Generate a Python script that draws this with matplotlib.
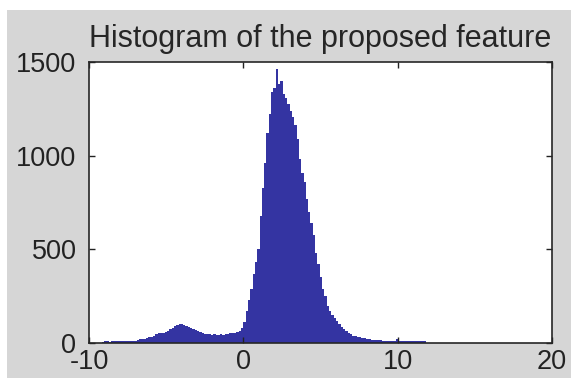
# coding:utf-8
import numpy as np
import matplotlib
matplotlib.use('Agg')
import matplotlib.pyplot as plt
from matplotlib.patches import Rectangle

plt.rcParams['font.family'] = ['Liberation Sans', 'DejaVu Sans']
plt.rcParams['axes.unicode_minus'] = False

# 直方图的分箱：从 -9.15 开始，宽 0.15
bin_start = -9.15
bin_width = 0.15
counts = [
    8, 9, 9, 8, 9, 10, 9, 9, 10, 10,
    10, 9, 10, 11, 12, 15, 19, 21, 24, 28,
    31, 34, 40, 47, 53, 54, 55, 58, 66, 76,
    82, 90, 96, 100, 99, 98, 93, 86, 80, 74,
    68, 63, 58, 54, 50, 47, 46, 44, 47, 45,
    44, 47, 45, 48, 50, 52, 53, 55, 60, 66,
    78, 110, 170, 230, 290, 370, 430, 500, 680, 830,
    960, 1120, 1220, 1340, 1360, 1465, 1380, 1400, 1330, 1310,
    1275, 1240, 1205, 1165, 1090, 980, 910, 860, 770, 700,
    640, 575, 480, 420, 350, 290, 250, 200, 172, 150,
    132, 118, 102, 88, 74, 63, 54, 47, 40, 35,
    32, 30, 28, 26, 23, 20, 18, 17, 16, 15,
    14, 13, 12, 12, 11, 10, 11, 20, 11, 11,
    10, 10, 9, 10, 9, 10, 9, 9, 10, 9,
]
edges = bin_start + bin_width * np.arange(len(counts) + 1)

title = 'Histogram of the proposed feature'
xticks = [-10, 0, 10, 20]
yticks = [0, 500, 1000, 1500]

fig = plt.figure(figsize=(5.71, 3.78), dpi=100, facecolor='white')
# 灰色背景
fig.patches.append(Rectangle((7 / 571, 0), 1, 368 / 378, transform=fig.transFigure,
                             facecolor='#d6d6d6', edgecolor='none', zorder=-10))

ax = fig.add_axes([89 / 571, 35 / 378, 463 / 571, 281 / 378])
ax.set_facecolor('white')
# 阶梯填充成一个整体多边形，避免条间白缝
ax.fill_between(edges, np.append(counts, counts[-1]), step='post',
                color='#3434a2', linewidth=0)

ax.set_xlim(-10, 20)
ax.set_ylim(0, 1500)
ax.set_xticks(xticks)
ax.set_yticks(yticks)
ax.tick_params(direction='in', length=4, width=1, top=True, right=True,
               labelsize=19.5, labelcolor='#222222', colors='#222222')
ax.tick_params(axis='y', pad=9)
ax.tick_params(axis='x', pad=4)
for s in ax.spines.values():
    s.set_linewidth(1.2)
    s.set_color('#262626')
    s.set_zorder(5)

ax.set_title(title, fontsize=22, color='#262626', pad=11)

fig.savefig('out.png', dpi=100, facecolor=fig.get_facecolor())
